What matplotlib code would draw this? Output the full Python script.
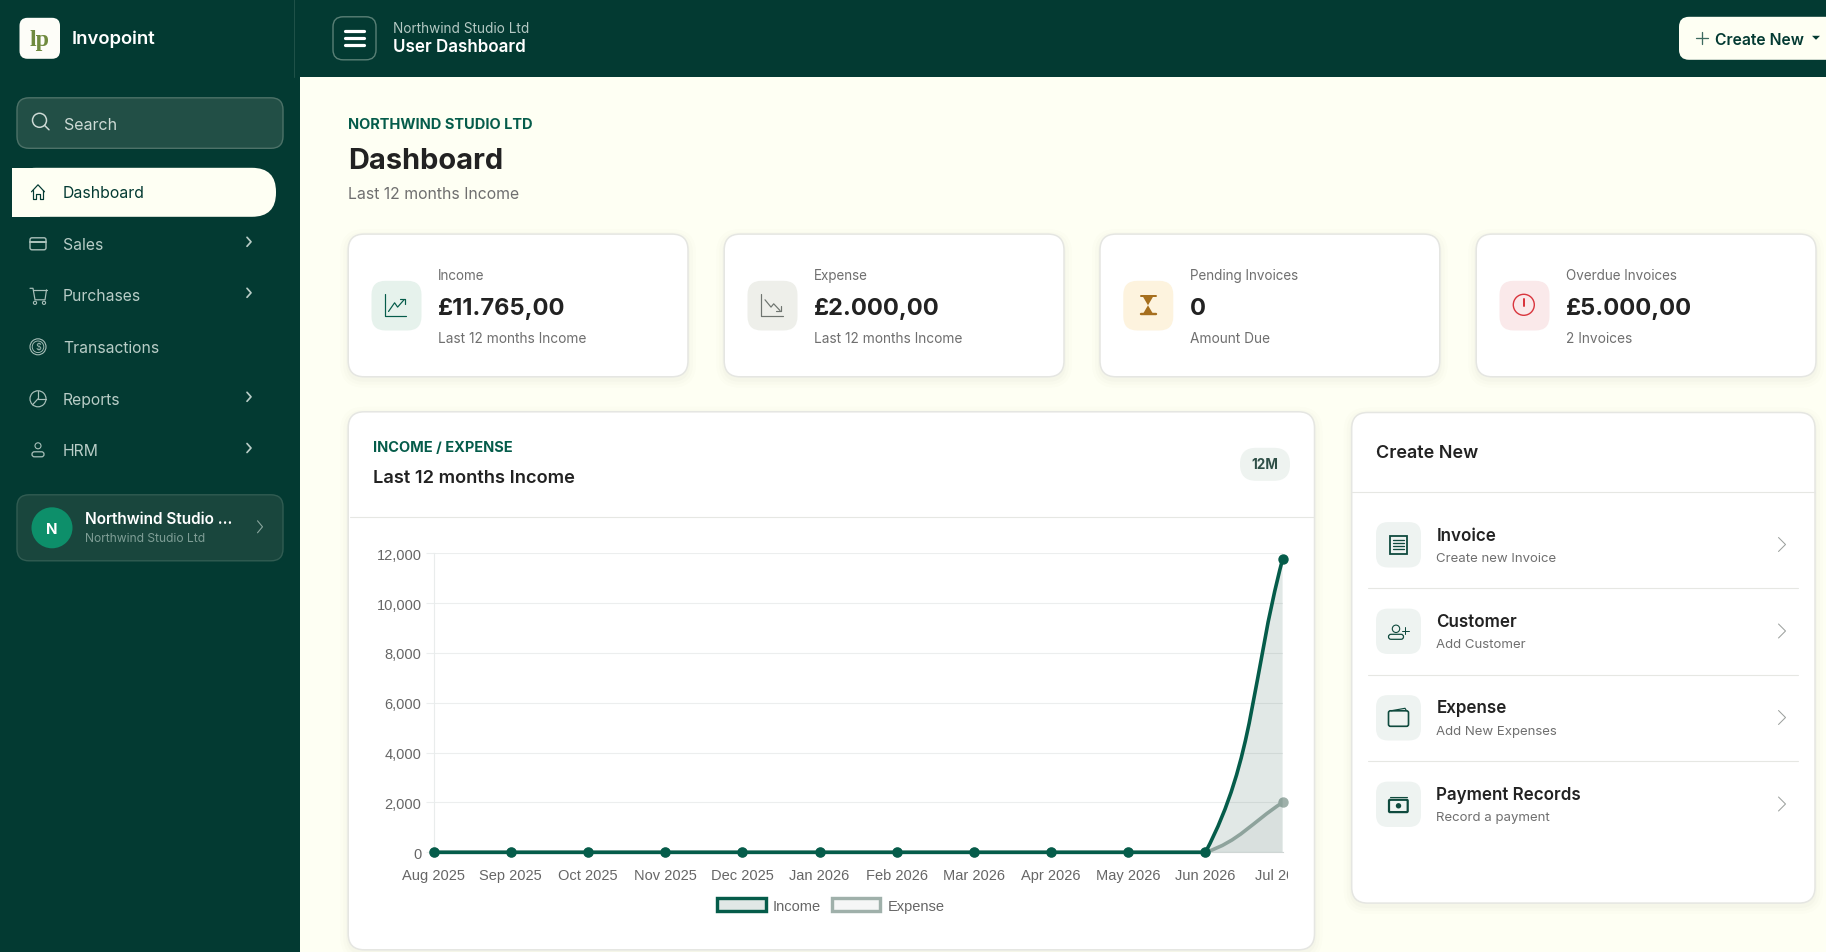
import numpy as np
import matplotlib
matplotlib.use("Agg")
import matplotlib.pyplot as plt
from matplotlib.patches import FancyBboxPatch, Rectangle, Circle, PathPatch, Patch, Polygon
from matplotlib.path import Path
from matplotlib.lines import Line2D
from matplotlib.ticker import FuncFormatter
from matplotlib.transforms import IdentityTransform

# === Data ===
months = ["Aug 2025", "Sep 2025", "Oct 2025", "Nov 2025", "Dec 2025", "Jan 2026",
          "Feb 2026", "Mar 2026", "Apr 2026", "May 2026", "Jun 2026", "Jul 2026"]
income = [0, 0, 0, 0, 0, 0, 0, 0, 0, 0, 0, 11765]
expense = [0, 0, 0, 0, 0, 0, 0, 0, 0, 0, 0, 2000]
y_ticks = [0, 2000, 4000, 6000, 8000, 10000, 12000]

nav_labels = ["Sales", "Purchases", "Transactions", "Reports", "HRM"]
nav_arrows = [True, True, False, True, True]
stat_labels = ["Income", "Expense", "Pending Invoices", "Overdue Invoices"]
stat_values = ["£11.765,00", "£2.000,00", "0", "£5.000,00"]
stat_notes = ["Last 12 months Income", "Last 12 months Income", "Amount Due", "2 Invoices"]
create_titles = ["Invoice", "Customer", "Expense", "Payment Records"]
create_notes = ["Create new Invoice", "Add Customer", "Add New Expenses", "Record a payment"]

# === Colours ===
DARK = "#033a32"
CREAM = "#fefff3"
GREEN = "#055c4a"
GREEN_FILL = "#1d4f43"
GREY_LINE = "#9fb0aa"
INK = "#222222"
MUTED = "#6f6f6f"
UI_FONT = "Inter"

W, H = 1826, 953
fig = plt.figure(figsize=(W / 100, H / 100), dpi=100, facecolor=CREAM)
ui = fig.add_axes([0, 0, 1, 1])
ui.set_xlim(0, W)
ui.set_ylim(H - 0.8, -0.8)
ui.axis("off")


def box(x0, y0, x1, y1, r=0, fc="white", ec="none", lw=1, z=1):
    style = f"round,pad=0,rounding_size={r}" if r else "square,pad=0"
    p = FancyBboxPatch((x0, y0), x1 - x0, y1 - y0, boxstyle=style, fc=fc, ec=ec, lw=lw, zorder=z)
    ui.add_patch(p)
    return p


def label(x, y, s, px=14, color=INK, weight="normal", ha="left", family=UI_FONT):
    # va=center sits a little high against the browser text
    return ui.text(x, y + 0.9, s, fontsize=px * 0.72, color=color, fontweight=weight, ha=ha,
                   va="center", family=family, zorder=5)


def stroke(xs, ys, color, lw=1.5, z=4):
    ui.add_line(Line2D(xs, ys, color=color, lw=lw * 0.72, zorder=z, solid_capstyle="round",
                       solid_joinstyle="round"))


def ring(x, y, r, color, lw=1.5, fc="none", z=4):
    ui.add_patch(Circle((x, y), r, fc=fc, ec=color, lw=lw * 0.72, zorder=z))


def chevron(x, y, color, h=6, w=4, lw=1.5):
    stroke([x - w / 2, x + w / 2, x - w / 2], [y - h, y, y + h], color, lw)


def card(x0, y0, x1, y1, r=16):
    for i, a in zip([8, 5, 2], [0.012, 0.015, 0.02]):
        s = box(x0 - i, y0 - i + 3, x1 + i, y1 + i + 3, r + i, fc="#5a5a3a", z=1)
        s.set_alpha(a)
    box(x0, y0, x1, y1, r, fc="white", ec="#e5e6e2", lw=1.1, z=2)


# === Frame ===
box(0, -2, 300, H, fc=DARK, z=0.5)
box(294, -2, W, 77, fc=DARK, z=0.5)
stroke([294, 294], [-2, 77], "#1f5148", 1, z=1)

# logo and top bar
box(19.5, 18, 60, 59, 8, fc="#fdfdf8", z=2)
label(39.5, 39, "lp", 24, "#6f8a3e", "bold", "center", "Liberation Serif")
label(71.8, 37.5, "Invopoint", 18.5, "white", "semibold")
box(333, 17, 376, 60, 10, fc=DARK, ec="#5a8076", lw=1, z=2)
for yy in [31, 38.5, 45.5]:
    stroke([345, 364], [yy, yy], "white", 3.2)
label(393.4, 27.5, "Northwind Studio Ltd", 13.6, "#b5c9c4")
label(393.4, 46, "User Dashboard", 17, "white", "semibold")
box(1679, 17, W + 20, 60, 10, fc=CREAM, z=2)
stroke([1696, 1708], [38.3, 38.3], "#3d6a5f", 1.3)
stroke([1702, 1702], [32.3, 44.3], "#3d6a5f", 1.3)
label(1715, 38.5, "Create New", 15.7, DARK, "semibold")
ui.add_patch(Polygon([[1812, 36], [1820, 36], [1816, 40]], fc=DARK, ec="none", zorder=4))

# search
box(17, 98, 283, 148.5, 12, fc="#224f46", ec="#4d7268", lw=1, z=2)
ring(39.5, 120.5, 7, "#cddad5")
stroke([44.5, 49], [125.5, 130], "#cddad5")
label(64, 124, "Search", 16, "#cddad5")

# nav
box(12, 168, 276, 217, 24, fc=CREAM, z=2)
box(12, 168, 40, 217, fc=CREAM, z=2)
stroke([31.5, 38, 44.5], [192, 185, 192], DARK, 1.2)
stroke([33, 33, 36, 36, 40, 40, 43, 43], [190, 199, 199, 194, 194, 199, 199, 190], DARK, 1.2)
label(63, 191.5, "Dashboard", 15.8, DARK)

nav_ys = [244, 295, 347, 399, 450.2]
icon_c = "#a9c0ba"
for name, arrow, yy in zip(nav_labels, nav_arrows, nav_ys):
    label(63, yy, name, 15.7, "#b9cdc7")
    if arrow:
        chevron(249, yy - 2, "#b9cdc7", 4.5, 4, 1.7)
# card icon
box(30, 238, 46, 250, 2, fc="none", ec=icon_c, lw=1, z=4)
stroke([30, 46], [242, 242], icon_c, 2)
# cart icon
stroke([30, 33, 35, 45, 46.5], [288.5, 288.5, 300, 300, 290], icon_c, 1.2)
stroke([33, 46.5], [290, 290], icon_c, 1.2)
ring(35, 303, 1.6, icon_c, 1.1)
ring(44, 303, 1.6, icon_c, 1.1)
# coin icon
ring(38, 347, 8, icon_c, 1.1)
ring(38, 347, 5.8, icon_c, 0.9)
ui.text(38, 347, "$", fontsize=6.5, color=icon_c, ha="center", va="center", zorder=5, family=UI_FONT)
# pie icon
ring(38, 399, 8, icon_c, 1.2)
stroke([38, 38, 46], [391, 399, 399], icon_c, 1.2)
stroke([38, 32.5], [399, 405], icon_c, 1.2)
# person icon
ring(38, 446, 3, icon_c, 1.1)
box(32, 452, 44, 457, 2.4, fc="none", ec=icon_c, lw=0.9, z=4)

# workspace card
box(17, 495, 283, 561, 12, fc="#19463d", ec="#315c52", lw=1, z=2)
ui.add_patch(Circle((52, 528), 20.5, fc="#0d8f6a", ec="none", zorder=3))
label(52, 528, "N", 15, "white", "bold", "center")
label(85.3, 517.5, "Northwind Studio …", 15.4, "white", "semibold")
label(85.3, 537.5, "Northwind Studio Ltd", 12.1, "#7f9e96")
chevron(260, 527, "#8aa69e", 6, 5, 1.1)

# page heading
label(347.8, 123.5, "NORTHWIND STUDIO LTD", 14.6, GREEN, "bold")
label(347.8, 159.5, "Dashboard", 29, INK, "bold")
label(347.8, 192.8, "Last 12 months Income", 15.8, MUTED)

# === Stat cards ===
stat_x = [349, 725, 1100.8, 1477]
stat_fill = ["#e6f2ec", "#eeefea", "#fdf3de", "#fae9ea"]
for i in range(4):
    x0 = stat_x[i]
    card(x0 - 0.8, 234.3, x0 + 339, 377)
    box(x0 + 22.5, 281, x0 + 72.5, 330.7, 14, fc=stat_fill[i], z=3)
    label(x0 + 89, 274, stat_labels[i], 13.5, MUTED)
    label(x0 + 89, 307.5, stat_values[i], 23.6, INK, "bold")
    label(x0 + 89, 337, stat_notes[i], 13.7, MUTED)

# income icon
stroke([385, 385, 406], [294, 316, 316], GREEN, 1.2)
stroke([388.5, 394.6, 397.6, 404], [311.7, 303, 307.3, 300], GREEN, 1.2)
stroke([400, 405, 405], [299.5, 299.5, 304], GREEN, 1.2)
# expense icon
stroke([761.4, 761.4, 782.5], [294, 316, 316], "#6f7570", 1.2)
stroke([765, 771, 773.7, 780], [300, 307.3, 304, 310.7], "#6f7570", 1.2)
stroke([775.5, 781, 781], [311, 311, 306], "#6f7570", 1.2)
# hourglass
hg = "#a66f1e"
stroke([1140.5, 1155.5], [296.5, 296.5], hg, 2)
stroke([1140.5, 1155.5], [314.5, 314.5], hg, 2.4)
ui.add_patch(Polygon([[1143, 297], [1153, 297], [1148, 305.5], [1153, 314], [1143, 314], [1148, 305.5]],
                     fc=hg, ec="none", zorder=4))
# alert
ring(1523.8, 305, 10.5, "#d9363e", 1.4)
stroke([1523.8, 1523.8], [299.5, 306], "#d9363e", 2)
stroke([1523.8, 1523.8], [310, 310.3], "#d9363e", 2.2)

# === Chart card ===
card(348.2, 412, 1314.5, 950)
label(373.2, 446.5, "INCOME / EXPENSE", 14.6, GREEN, "bold")
label(373.2, 476.5, "Last 12 months Income", 18.3, INK, "semibold")
box(1240, 448, 1290, 481, 16, fc="#eef3f0", z=3)
label(1265, 463.8, "12M", 13.5, "#2f4f47", "bold", "center")
stroke([349.5, 1314], [517, 517], "#e6e7e3", 1.1, z=3)

ax_x0, ax_x1 = 433.7, 1282.6
ax_top, ax_bot = 554.3, 853.3
ax = fig.add_axes([ax_x0 / W, 1 - ax_bot / H, (ax_x1 - ax_x0) / W, (ax_bot - ax_top) / H], zorder=3)
ax.patch.set_alpha(0)
x = np.arange(len(months))
ax.set_xlim(0, len(months) - 1)
ax.set_ylim(0, 12000)


def smooth_path(xs, ys):
    # same control points as a tension 0.4 spline, worked out in screen space
    pts = ax.transData.transform(np.column_stack([xs, ys]))
    n = len(pts)
    verts = [pts[0]]
    codes = [Path.MOVETO]
    out_ctrl = []
    in_ctrl = []
    for i in range(n):
        prev = pts[max(i - 1, 0)]
        nxt = pts[min(i + 1, n - 1)]
        d1 = np.hypot(*(pts[i] - prev))
        d2 = np.hypot(*(nxt - pts[i]))
        total = d1 + d2
        in_ctrl.append(pts[i] - 0.4 * d1 / total * (nxt - prev))
        out_ctrl.append(pts[i] + 0.4 * d2 / total * (nxt - prev))
    for i in range(n - 1):
        verts += [out_ctrl[i], in_ctrl[i + 1], pts[i + 1]]
        codes += [Path.CURVE4] * 3
    verts = ax.transData.inverted().transform(np.array(verts))
    verts[:, 1] = np.clip(verts[:, 1], 0, None)
    return verts, codes


def draw_series(ys, color, fill_color, fill_alpha, z):
    verts, codes = smooth_path(x, ys)
    area = np.vstack([verts, [x[-1], 0], [x[0], 0], [x[0], 0]])
    ax.add_patch(PathPatch(Path(area, codes + [Path.LINETO, Path.LINETO, Path.CLOSEPOLY]),
                           fc=fill_color, alpha=fill_alpha, ec="none", zorder=z))
    ax.add_patch(PathPatch(Path(verts, codes), fc="none", ec=color, lw=3.6 * 0.72, zorder=z + 1,
                           clip_on=False, capstyle="round"))
    ax.plot(x, ys, ls="none", marker="o", ms=9 * 0.72, mfc=color, mec=color, clip_on=False, zorder=z + 2)


draw_series(expense, GREY_LINE, GREY_LINE, 0.1, 3)
draw_series(income, GREEN, GREEN_FILL, 0.13, 6)

for side in ["top", "right"]:
    ax.spines[side].set_visible(False)
ax.spines["left"].set_color("#e9ecec")
ax.spines["left"].set_linewidth(0.8)
ax.spines["bottom"].set_color("#cfd6d4")
ax.spines["bottom"].set_linewidth(0.8)
ax.set_yticks(y_ticks)
ax.yaxis.set_major_formatter(FuncFormatter(lambda v, _: f"{int(v):,}"))
ax.grid(axis="y", color="#eceeee", lw=0.8)
ax.set_axisbelow(True)
ax.tick_params(axis="y", length=8 * 0.72, width=0.8, color="#eceeee", pad=3,
               labelsize=14.6 * 0.72, labelcolor="#666666")
ax.set_xticks(x)
ax.set_xticklabels(months)
ax.tick_params(axis="x", length=0, pad=11.5, labelsize=14.6 * 0.72, labelcolor="#666666")
for t in ax.get_xticklabels() + ax.get_yticklabels():
    t.set_family("Liberation Sans")

# last month label is cut off by the canvas edge
for t in ax.get_xticklabels():
    t.set_clip_on(True)
    t.set_clip_path(Rectangle((340, 0), 948, H, transform=IdentityTransform()))

handles = [Patch(fc=(29 / 255, 79 / 255, 67 / 255, 0.13), ec=GREEN, lw=3.4 * 0.72),
           Patch(fc=(159 / 255, 176 / 255, 170 / 255, 0.1), ec=GREY_LINE, lw=3.4 * 0.72)]
leg = fig.legend(handles, ["Income", "Expense"], loc="center", bbox_to_anchor=(831 / W, 1 - 906.5 / H),
                 ncol=2, frameon=False, handlelength=3.3, handleheight=1.0, handletextpad=0.5,
                 columnspacing=0.75, prop={"family": "Liberation Sans", "size": 14.6 * 0.72},
                 labelcolor="#666666")

# === Create New panel ===
card(1351.7, 412.7, 1815, 903.3)
label(1376.3, 452, "Create New", 18, INK, "semibold")
stroke([1352.2, 1814.5], [492.3, 492.3], "#e6e7e3", 1.1, z=3)
row_y = [545, 631.5, 718, 804.5]
title_y = [535, 621, 707, 794]
note_y = [557.3, 643.3, 730, 816.3]
for i in range(4):
    box(1376, row_y[i] - 22.7, 1421, row_y[i] + 22.7, 12, fc="#eef3f1", z=3)
    label(1436.3, title_y[i], create_titles[i], 17, INK, "semibold")
    label(1436.3, note_y[i], create_notes[i], 13.2, MUTED)
    chevron(1782, row_y[i] - 0.3, "#9a9f9c", 7, 7, 1)
    if i < 3:
        stroke([1368, 1797.7], [row_y[i] + 43.4, row_y[i] + 43.4], "#e6e7e3", 1.1, z=3)

ic = "#0f4a3e"
# receipt
box(1390, 536, 1406.7, 554, fc="none", ec=ic, lw=1.3, z=4)
for yy in [540, 543, 546, 549]:
    stroke([1393, 1403.5], [yy, yy], ic, 1.3)
# person plus
ring(1396, 629, 3.7, ic, 1.1)
box(1388.5, 634.5, 1403.5, 639.5, 2.5, fc="none", ec=ic, lw=0.9, z=4)
stroke([1402, 1408.6], [630.7, 630.7], ic, 1)
stroke([1405.3, 1405.3], [627.4, 634], ic, 1)
# wallet
box(1388.5, 711, 1408.5, 726.5, 2, fc="none", ec=ic, lw=1.2, z=4)
stroke([1391, 1405, 1406.5], [711, 708.5, 711], ic, 1.2)
# cash
box(1389, 800, 1407.7, 812.3, 1, fc="none", ec=ic, lw=1.6, z=4)
stroke([1389.5, 1407.2], [797.3, 797.3], ic, 1.1)
ui.add_patch(Circle((1398.5, 806), 2.7, fc=ic, ec="none", zorder=4))

fig.savefig("out.png", dpi=100, facecolor=CREAM)
